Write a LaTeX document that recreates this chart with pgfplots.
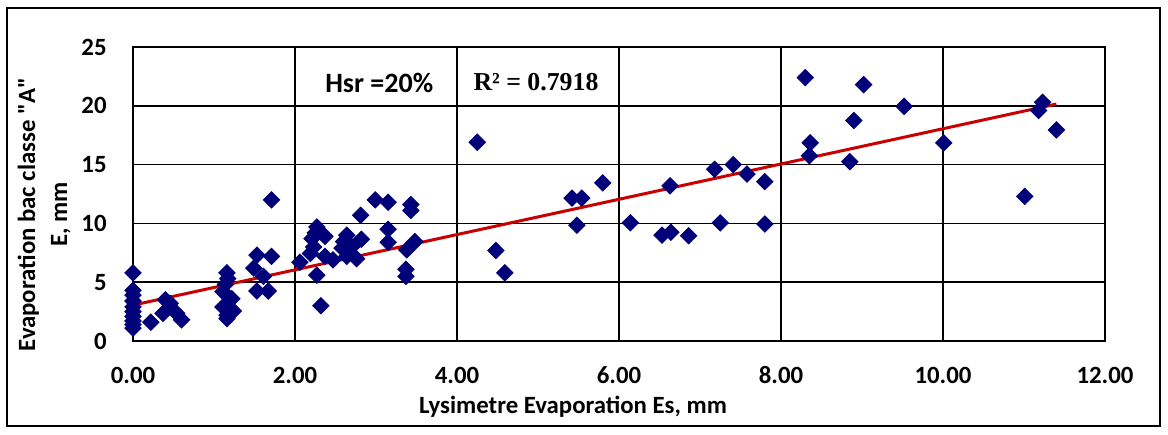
\documentclass[border=0pt]{standalone}
\usepackage{fontspec}
\setmainfont{Carlito}[Ligatures=TeXOff]
\newfontfamily\serifbf{Liberation Serif}
\usepackage{pgfplots}
\pgfplotsset{compat=1.18}
\definecolor{navypt}{RGB}{0,0,120}
\definecolor{trendred}{RGB}{200,0,0}

\begin{document}
\begin{tikzpicture}
\begin{axis}[
    at={(66.5pt,46.5pt)}, anchor=south west,
    scale only axis, width=486pt, height=147pt,
    xmin=0, xmax=12, ymin=0, ymax=25,
    xtick distance=2, ytick distance=5,
    grid=major,
    major grid style={black, line width=0.9pt},
    axis line style={black, line width=1pt},
    major tick length=0pt,
    clip=false,
    font=\fontsize{12.4}{16}\selectfont\bfseries,
    /pgf/number format/assume math mode=true,
    x tick label style={/pgf/number format/.cd,fixed,fixed zerofill,precision=2,/tikz/.cd,
        anchor=center, inner sep=0pt, yshift=-17pt},
    yticklabel style={anchor=east, inner sep=0pt, xshift=-13pt},
    xlabel={Lysimetre Evaporation Es, mm},
    xlabel style={at={(axis description cs:0.4527,-0.245)}, anchor=base},
    ylabel={Evaporation bac classe "A"\\E, mm},
    ylabel style={at={(axis description cs:-0.0916,0.43)}, anchor=center, align=center, rotate=0},
]
\addplot[only marks, mark=square*, mark size=2.9pt, color=navypt,
    mark options={rotate=45}]
    coordinates {
    (0,5.8)(0,4.3)(0,3.9)(0,3.4)(0,2.9)(0,2.5)(0,2.1)(0,1.7)(0,1.4)(0,1.1)
    (0.22,1.6)(0.40,3.5)(0.46,3.2)(0.37,2.35)(0.54,2.35)(0.60,1.8)
    (1.16,5.8)(1.17,5.3)(1.14,4.8)(1.11,4.2)(1.22,3.6)(1.11,2.9)(1.24,2.55)(1.16,2.2)(1.16,1.9)
    (1.53,7.3)(1.71,7.2)(1.49,6.2)(1.61,5.5)(1.53,4.25)(1.67,4.25)(1.71,12.0)
    (2.99,12.0)(3.15,11.8)(3.43,11.6)(3.43,11.1)(2.81,10.7)(2.27,9.7)(2.25,9.2)(2.37,8.9)
    (2.21,8.7)(2.64,9.0)(2.82,8.65)(3.15,9.5)(3.15,8.4)(2.60,8.45)(2.70,8.0)(2.58,7.9)
    (3.48,8.45)(3.38,7.75)(2.23,8.0)(2.19,7.45)(2.37,7.2)(2.47,6.9)(2.76,7.0)(2.64,7.2)
    (2.06,6.7)(2.27,5.6)(3.37,6.1)(3.37,5.5)(2.32,3.0)
    (4.25,16.9)(4.48,7.7)(4.59,5.8)(5.42,12.15)(5.54,12.15)(5.48,9.85)(5.80,13.45)
    (6.14,10.05)(6.63,13.2)(6.53,9.0)(6.64,9.25)(6.86,8.95)(7.18,14.6)(7.41,15.0)
    (7.58,14.2)(7.80,13.55)(7.25,10.05)(7.80,9.95)
    (8.30,22.4)(9.02,21.8)(9.52,19.95)(8.90,18.75)(8.36,16.85)(8.35,15.75)(8.85,15.25)
    (10.01,16.85)(11.23,20.3)(11.18,19.6)(11.40,17.95)(11.01,12.3)
    };
% linear trend line
\addplot[color=trendred, line width=1.5pt] coordinates {(0,3.05)(11.4,20.15)};
\node[anchor=base, inner sep=0pt, font=\fontsize{14}{16}\selectfont\bfseries] at (axis cs:3.04,21.1) {Hsr =20\%};
\node[anchor=base, inner sep=0pt, font=\fontsize{12.9}{15}\serifbf\bfseries] at (axis cs:4.975,21.34) {R² = 0.7918};
\end{axis}
\draw[black, line width=0.8pt] (3.5pt,4pt) rectangle (580pt,213pt);
\pgfresetboundingbox
\useasboundingbox (0,0) rectangle (584pt,217pt);
\end{tikzpicture}
\end{document}
